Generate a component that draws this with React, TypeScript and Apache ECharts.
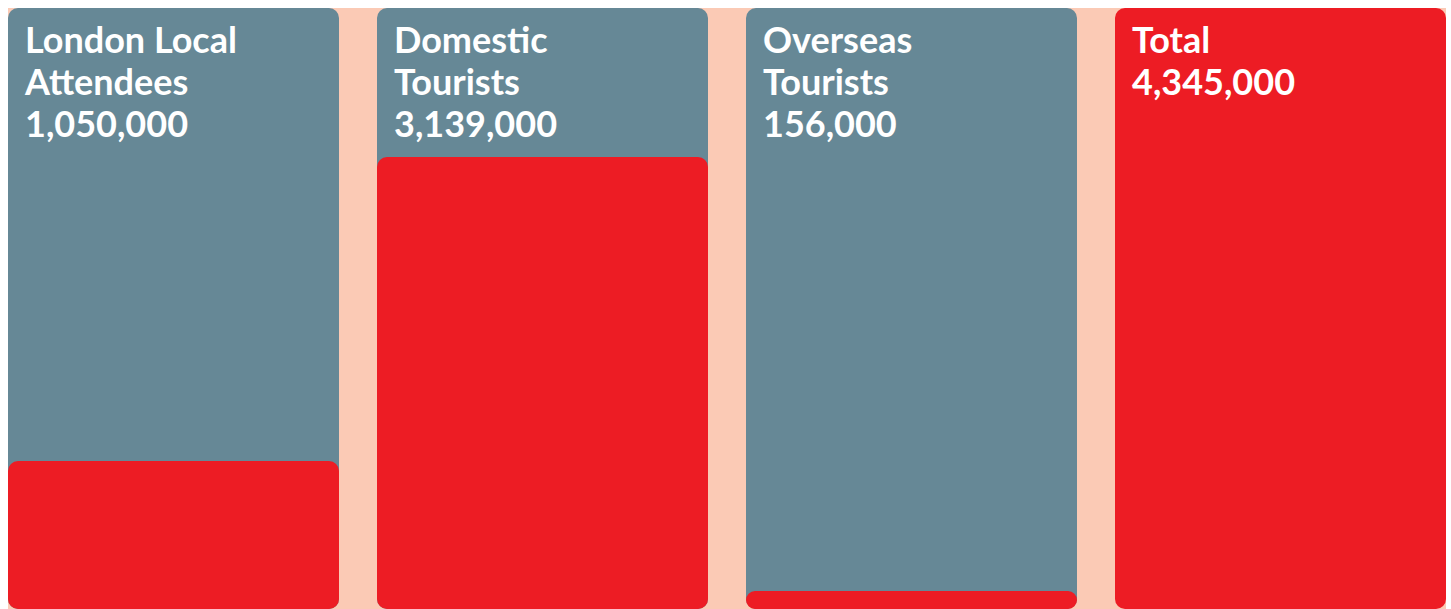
import React, { useEffect, useRef } from "react";
import * as echarts from "echarts";

const categories = ["London Local\nAttendees", "Domestic\nTourists", "Overseas\nTourists", "Total"];
const labelValues = [1050000, 3139000, 156000, 4345000];
// red bar heights as drawn in the picture
const barValues = [1070000, 3268000, 130000, 4345000];
const totalValue = 4345000;

const PEACH = "#FBCAB5";
const SLATE = "#668896";
const RED = "#ED1C24";

export default function App() {
  const ref = useRef<HTMLDivElement>(null);
  useEffect(() => {
    if (!ref.current) return;
    const chart = echarts.init(ref.current, undefined, { renderer: "svg" });
    const fmt = (v: number) => v.toLocaleString("en-US");
    chart.setOption({
      animation: false,
      backgroundColor: PEACH,
      grid: { left: 0, right: 0, top: 0, bottom: 0 },
      xAxis: {
        type: "category",
        data: categories,
        show: false,
      },
      yAxis: { type: "value", min: 0, max: totalValue, show: false },
      series: [
        {
          type: "bar",
          barWidth: 331,
          barGap: "-100%",
          data: categories.map((_, i) => (i < 3 ? totalValue : "-")),
          itemStyle: { color: SLATE, borderRadius: 10 },
          silent: true,
        },
        {
          type: "bar",
          barWidth: 331,
          barGap: "-100%",
          data: barValues,
          itemStyle: { color: RED, borderRadius: 10 },
          silent: true,
        },
        {
          type: "bar",
          barWidth: 331,
          barGap: "-100%",
          data: categories.map(() => totalValue),
          itemStyle: { color: "rgba(0,0,0,0)" },
          silent: true,
          label: {
            show: true,
            position: "insideTopLeft",
            distance: 0,
            offset: [17, 10],
            color: "#FFFFFF",
            fontFamily: "Lato",
            fontWeight: "bold",
            fontSize: 36,
            lineHeight: 42,
            align: "left",
            formatter: (p: any) => `${categories[p.dataIndex]}\n${fmt(labelValues[p.dataIndex])}`,
          },
        },
      ],
    });
    return () => chart.dispose();
  }, []);
  return (
    <div
      style={{ position: "absolute", left: 8, top: 8, width: 1438, height: 601, overflow: "hidden", background: PEACH }}
    >
      <div ref={ref} style={{ position: "absolute", left: -19, top: 0, width: 1476, height: 601 }} />
    </div>
  );
}
